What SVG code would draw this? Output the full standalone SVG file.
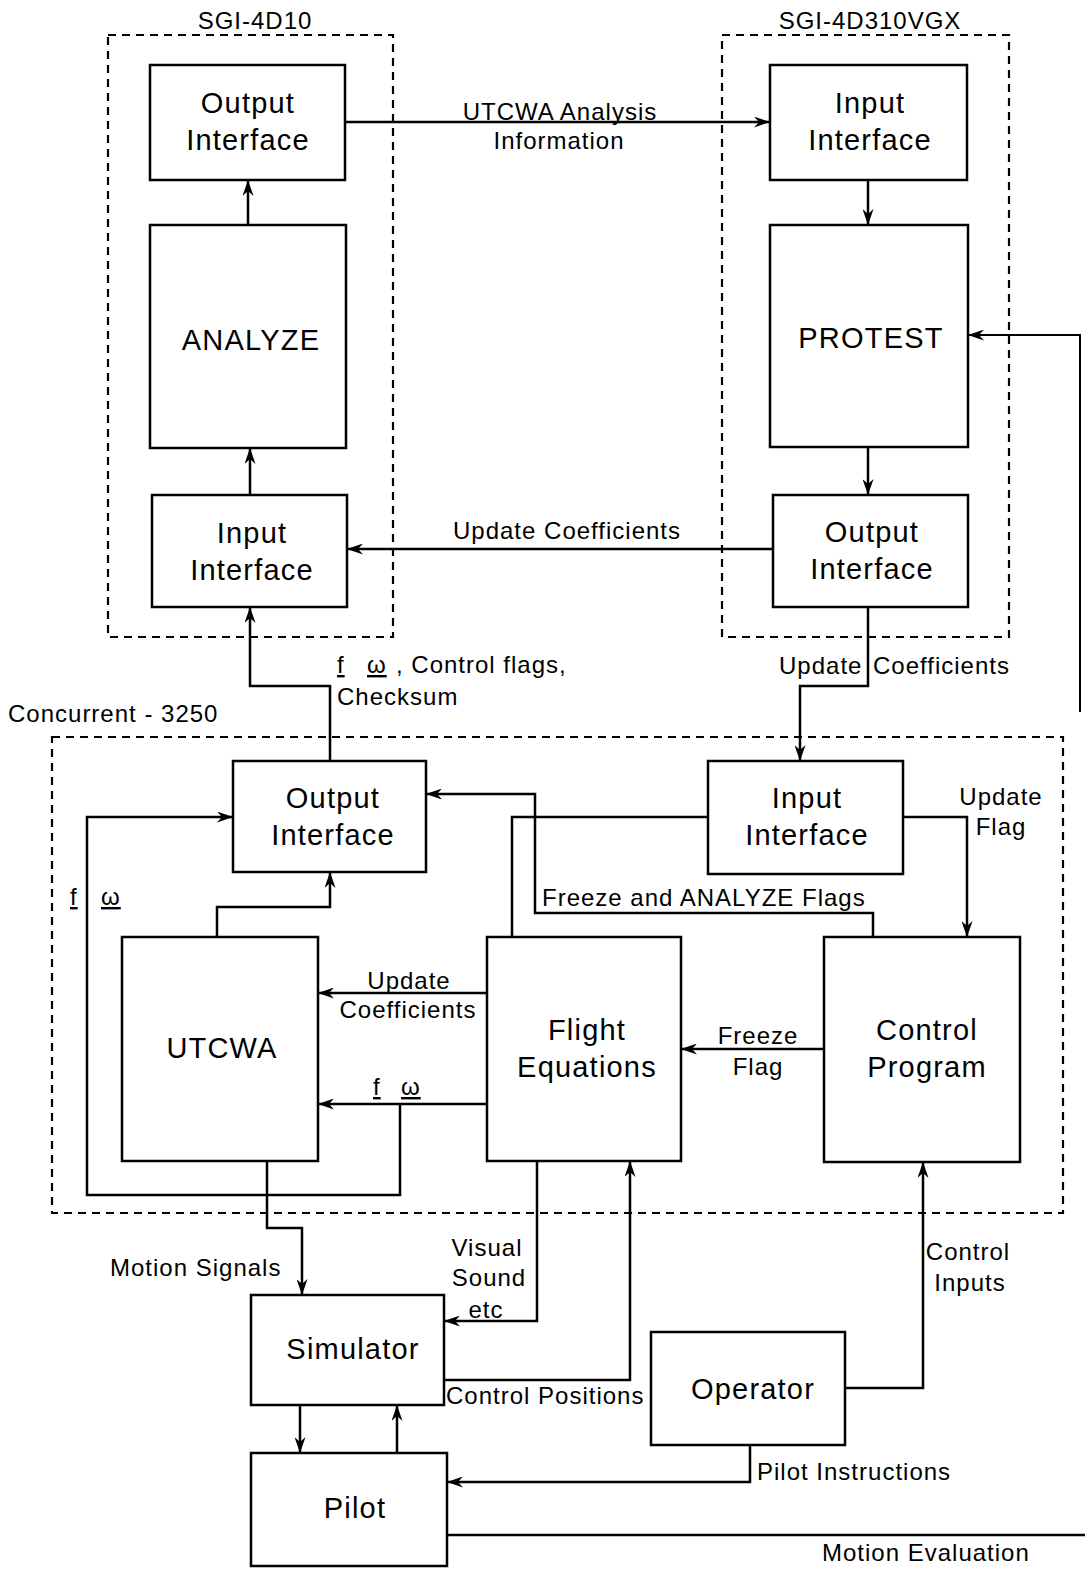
<svg xmlns="http://www.w3.org/2000/svg" width="1085" height="1570" viewBox="0 0 1085 1570">
<defs>
<style>
.box{fill:#fff;stroke:#000;stroke-width:2.5}
.cont{fill:none;stroke:#000;stroke-width:2.2;stroke-dasharray:8 6}
.bt{font-family:"Liberation Sans",Arial,sans-serif;font-size:29px;letter-spacing:1.2px;text-anchor:middle;fill:#000}
.lb{font-family:"Liberation Sans",Arial,sans-serif;font-size:24px;letter-spacing:1px;fill:#000}
.mid{text-anchor:middle}
.ul{text-decoration:underline}
.c{fill:none;stroke:#000;stroke-width:2.5}
.a{marker-end:url(#ah)}
</style>
<marker id="ah" viewBox="0 0 16 11" refX="16" refY="5.5" markerWidth="16" markerHeight="11" markerUnits="userSpaceOnUse" orient="auto">
<path d="M0,0 L16,5.5 L0,11 L5,5.5 z" fill="#000"/>
</marker>
</defs>
<rect width="1085" height="1570" fill="#fff"/>

<g id="sgi4d10">
<rect class="cont" x="108" y="35" width="285" height="602"/>
<text class="lb mid" x="255" y="29">SGI-4D10</text>
</g>
<g id="sgi4d310vgx">
<rect class="cont" x="722" y="35" width="287" height="602"/>
<text class="lb mid" x="870" y="29">SGI-4D310VGX</text>
</g>
<g id="concurrent">
<rect class="cont" x="52" y="737" width="1011" height="476"/>
<text class="lb" x="8" y="722">Concurrent - 3250</text>
</g>

<g id="connectors">
<path class="c a" d="M345,122 H770"/>
<path class="c a" d="M868,180 V225"/>
<path class="c a" d="M868,447 V495"/>
<path class="c a" d="M773,549 H347"/>
<path class="c a" d="M250,495 V448"/>
<path class="c a" d="M248,225 V180"/>
<path class="c a" d="M868,607 V686 H800 V761"/>
<path class="c a" d="M330,761 V686 H250 V607"/>
<path class="c a" d="M400,1104 V1195 H87 V817 H233"/>
<path class="c a" d="M487,1104 H318"/>
<path class="c a" d="M217,937 V907 H330 V872"/>
<path class="c a" d="M487,993 H318"/>
<path class="c a" d="M824,1049 H681"/>
<path class="c a" d="M903,817 H967 V937"/>
<path class="c" d="M708,817 H512 V937"/>
<path class="c a" d="M873,937 V913 H535 V794 H426"/>
<path class="c a" d="M267,1161 V1228 H302 V1295"/>
<path class="c a" d="M537,1161 V1321 H444"/>
<path class="c a" d="M444,1380 H630 V1161"/>
<path class="c a" d="M845,1388 H923 V1162"/>
<path class="c a" d="M750,1445 V1482 H447"/>
<path class="c a" d="M300,1405 V1453"/>
<path class="c a" d="M397,1453 V1405"/>
<path class="c" d="M447,1535 H1085"/>
<path class="c a" style="stroke-width:2" d="M1080,712 V335 H968"/>

<text class="lb mid" x="560" y="120">UTCWA Analysis</text>
<text class="lb mid" x="559" y="149">Information</text>
<text class="lb mid" x="567" y="539">Update Coefficients</text>
<text class="lb" y="673"><tspan x="337" class="ul">f</tspan><tspan x="367" class="ul">ω</tspan><tspan x="396">, Control flags,</tspan></text>
<text class="lb" x="337" y="705">Checksum</text>
<text class="lb" y="674"><tspan x="779">Update</tspan><tspan x="873">Coefficients</tspan></text>
<text class="lb mid" x="1001" y="805">Update</text>
<text class="lb mid" x="1001" y="835">Flag</text>
<text class="lb" y="905"><tspan x="70" class="ul">f</tspan><tspan x="101" class="ul">ω</tspan></text>
<text class="lb" x="542" y="906">Freeze and ANALYZE Flags</text>
<text class="lb mid" x="409" y="989">Update</text>
<text class="lb mid" x="408" y="1018">Coefficients</text>
<text class="lb mid" x="758" y="1044">Freeze</text>
<text class="lb mid" x="758" y="1075">Flag</text>
<text class="lb" y="1095"><tspan x="373" class="ul">f</tspan><tspan x="401" class="ul">ω</tspan></text>
<text class="lb" x="110" y="1276">Motion Signals</text>
<text class="lb mid" x="487" y="1256">Visual</text>
<text class="lb mid" x="489" y="1286">Sound</text>
<text class="lb mid" x="486" y="1318">etc</text>
<text class="lb mid" x="968" y="1260">Control</text>
<text class="lb mid" x="970" y="1291">Inputs</text>
<text class="lb" x="446" y="1404">Control Positions</text>
<text class="lb" x="757" y="1480">Pilot Instructions</text>
<text class="lb" x="822" y="1561">Motion Evaluation</text>
</g>

<g id="output-interface-4d10">
<rect class="box" x="150" y="65" width="195" height="115"/>
<text class="bt" x="248" y="113">Output</text>
<text class="bt" x="248" y="150">Interface</text>
</g>
<g id="analyze">
<rect class="box" x="150" y="225" width="196" height="223"/>
<text class="bt" x="251" y="350">ANALYZE</text>
</g>
<g id="input-interface-4d10">
<rect class="box" x="152" y="495" width="195" height="112"/>
<text class="bt" x="252" y="543">Input</text>
<text class="bt" x="252" y="580">Interface</text>
</g>
<g id="input-interface-vgx">
<rect class="box" x="770" y="65" width="197" height="115"/>
<text class="bt" x="870" y="113">Input</text>
<text class="bt" x="870" y="150">Interface</text>
</g>
<g id="protest">
<rect class="box" x="770" y="225" width="198" height="222"/>
<text class="bt" x="871" y="348">PROTEST</text>
</g>
<g id="output-interface-vgx">
<rect class="box" x="773" y="495" width="195" height="112"/>
<text class="bt" x="872" y="542">Output</text>
<text class="bt" x="872" y="579">Interface</text>
</g>
<g id="output-interface-c">
<rect class="box" x="233" y="761" width="193" height="111"/>
<text class="bt" x="333" y="808">Output</text>
<text class="bt" x="333" y="845">Interface</text>
</g>
<g id="input-interface-c">
<rect class="box" x="708" y="761" width="195" height="113"/>
<text class="bt" x="807" y="808">Input</text>
<text class="bt" x="807" y="845">Interface</text>
</g>
<g id="utcwa">
<rect class="box" x="122" y="937" width="196" height="224"/>
<text class="bt" x="222" y="1058">UTCWA</text>
</g>
<g id="flight-equations">
<rect class="box" x="487" y="937" width="194" height="224"/>
<text class="bt" x="587" y="1040">Flight</text>
<text class="bt" x="587" y="1077">Equations</text>
</g>
<g id="control-program">
<rect class="box" x="824" y="937" width="196" height="225"/>
<text class="bt" x="927" y="1040">Control</text>
<text class="bt" x="927" y="1077">Program</text>
</g>
<g id="simulator">
<rect class="box" x="251" y="1295" width="193" height="110"/>
<text class="bt" x="353" y="1359">Simulator</text>
</g>
<g id="operator">
<rect class="box" x="651" y="1332" width="194" height="113"/>
<text class="bt" x="753" y="1399">Operator</text>
</g>
<g id="pilot">
<rect class="box" x="251" y="1453" width="196" height="113"/>
<text class="bt" x="355" y="1518">Pilot</text>
</g>
</svg>
